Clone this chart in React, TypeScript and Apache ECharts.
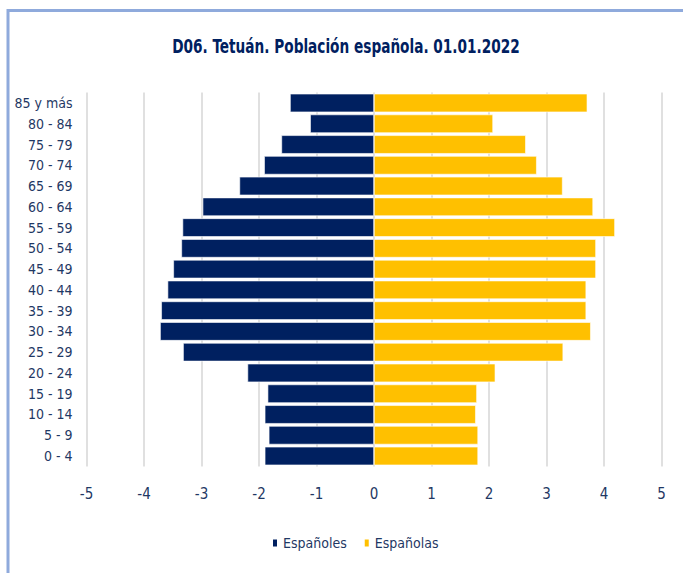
import React, { useEffect, useRef } from "react";
import * as echarts from "echarts";

const categories = [
  "0 - 4", "5 - 9", "10 - 14", "15 - 19", "20 - 24", "25 - 29", "30 - 34", "35 - 39",
  "40 - 44", "45 - 49", "50 - 54", "55 - 59", "60 - 64", "65 - 69", "70 - 74", "75 - 79",
  "80 - 84", "85 y más",
];
const espanoles = [
  -1.90, -1.83, -1.90, -1.85, -2.20, -3.32, -3.72, -3.70, -3.59, -3.49, -3.35, -3.33,
  -2.98, -2.34, -1.91, -1.61, -1.11, -1.46,
];
const espanolas = [
  1.81, 1.81, 1.77, 1.79, 2.11, 3.29, 3.77, 3.69, 3.69, 3.86, 3.86, 4.19, 3.81, 3.28,
  2.83, 2.64, 2.07, 3.71,
];
const xTicks = [-5, 5, 1];
const titleText = "D06. Tetuán. Población española. 01.01.2022";

const FONT = "'Liberation Sans Narrow', 'DejaVu Sans Condensed', 'Open Sans', sans-serif";
const NAVY = "#002060";
const TEXT = "#1f3864";

export default function App() {
  const ref = useRef<HTMLDivElement>(null);
  useEffect(() => {
    if (!ref.current) return;
    const chart = echarts.init(ref.current, null, { renderer: "svg" });
    chart.setOption({
      animation: false,
      backgroundColor: "#ffffff",
      graphic: [
        {
          type: "rect",
          shape: { x: 8, y: 10.5, width: 700, height: 600 },
          style: { fill: "none", stroke: "#8faadc", lineWidth: 3 },
          silent: true,
        },
        {
          type: "text",
          x: 346,
          y: 46,
          scaleX: 0.76,
          style: {
            text: titleText,
            textAlign: "center",
            textVerticalAlign: "middle",
            fontFamily: FONT,
            fontSize: 20,
            fontWeight: "bold",
            fill: NAVY,
          },
          silent: true,
        },
      ],
      legend: {
        bottom: 18,
        left: 266,
        itemWidth: 6,
        itemHeight: 9,
        itemGap: 16,
        icon: "rect",
        textStyle: { fontFamily: FONT, fontSize: 14, color: TEXT },
        data: ["Españoles", "Españolas"],
      },
      grid: { left: 86.5, right: 21.5, top: 92.6, bottom: 106.6, containLabel: false },
      xAxis: {
        type: "value",
        min: xTicks[0],
        max: xTicks[1],
        interval: xTicks[2],
        axisLine: { show: false },
        axisTick: { show: false },
        splitLine: { show: true, lineStyle: { color: "#d6d6d6", width: 1.5 } },
        axisLabel: { fontFamily: FONT, fontSize: 15, color: TEXT, margin: 20 },
      },
      yAxis: {
        type: "category",
        data: categories,
        axisLine: { show: false },
        axisTick: { show: false },
        axisLabel: { fontFamily: FONT, fontSize: 14, color: TEXT, margin: 14 },
      },
      series: [
        {
          name: "Españoles",
          type: "bar",
          data: espanoles,
          barGap: "-100%",
          barCategoryGap: "11%",
          itemStyle: { color: NAVY, borderColor: "#ffffff", borderWidth: 0.6 },
        },
        {
          name: "Españolas",
          type: "bar",
          data: espanolas,
          barGap: "-100%",
          barCategoryGap: "11%",
          itemStyle: { color: "#ffc000", borderColor: "#ffffff", borderWidth: 0.6 },
        },
      ],
    });
    return () => chart.dispose();
  }, []);
  return <div ref={ref} style={{ width: 683, height: 573, position: "absolute", left: 0, top: 0 }} />;
}
